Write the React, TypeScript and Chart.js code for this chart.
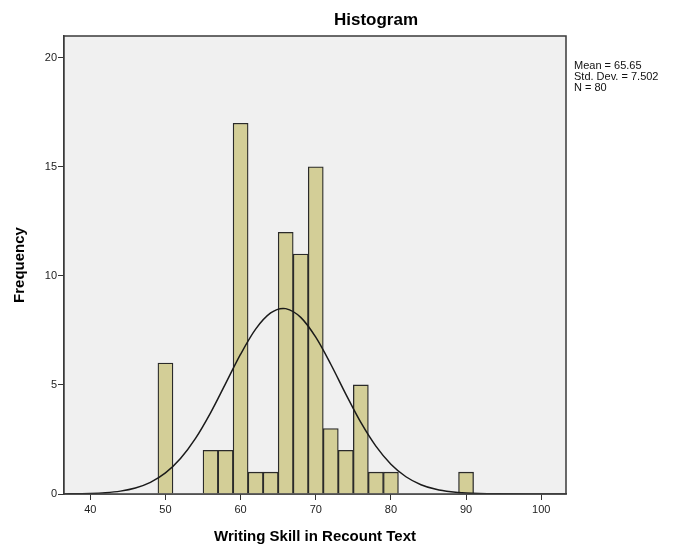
import React, { useEffect, useRef } from "react";
import { Chart, registerables } from "chart.js";

Chart.register(...registerables);

const binCenters = [50, 56, 58, 60, 62, 64, 66, 68, 70, 72, 74, 76, 78, 80, 90];
const frequencies = [6, 2, 2, 17, 1, 1, 12, 11, 15, 3, 2, 5, 1, 1, 1];
const curveX = [36, 40, 42, 44, 46, 48, 50, 52, 54, 56, 58, 60, 62, 64, 65.65, 66, 68, 70, 72, 74, 76, 78, 80, 82, 84, 86, 88, 90, 94, 100, 104];
const curveY = [0.003, 0.025, 0.059, 0.132, 0.276, 0.535, 0.966, 1.625, 2.548, 3.72, 5.06, 6.41, 7.56, 8.3, 8.51, 8.5, 8.1, 7.19, 5.95, 4.58, 3.28, 2.195, 1.366, 0.791, 0.427, 0.215, 0.101, 0.044, 0.007, 0.0, 0.0];
const xTickValues = [40, 50, 60, 70, 80, 90, 100];
const yTickValues = [0, 5, 10, 15, 20];
const statsLines = ["Mean = 65.65", "Std. Dev. = 7.502", "N = 80"];
const chartTitle = "Histogram";
const xTitle = "Writing Skill in Recount Text";
const yTitle = "Frequency";

const FONT = "'Liberation Sans', Arial, sans-serif";

export default function App() {
  const ref = useRef<HTMLCanvasElement | null>(null);
  useEffect(() => {
    if (!ref.current) return;
    const framePlugin = {
      id: "frame",
      beforeDatasetsDraw(chart: any) {
        const { ctx, chartArea: a } = chart;
        ctx.save();
        ctx.fillStyle = "#F0F0F0";
        ctx.fillRect(a.left, a.top, a.right - a.left, a.bottom - a.top);
        ctx.restore();
      },
      afterDraw(chart: any) {
        const { ctx, chartArea: a } = chart;
        ctx.save();
        ctx.strokeStyle = "#3a3a3a";
        ctx.lineWidth = 1.5;
        ctx.strokeRect(a.left, a.top, a.right - a.left, a.bottom - a.top);
        ctx.fillStyle = "#000";
        ctx.textAlign = "center";
        ctx.textBaseline = "middle";
        ctx.font = `bold 17px ${FONT}`;
        ctx.fillText(chartTitle, 376, 20);
        ctx.font = `bold 15px ${FONT}`;
        ctx.fillText(xTitle, (a.left + a.right) / 2, 537);
        ctx.save();
        ctx.translate(20, (a.top + a.bottom) / 2);
        ctx.rotate(-Math.PI / 2);
        ctx.fillText(yTitle, 0, 0);
        ctx.restore();
        ctx.font = `11px ${FONT}`;
        ctx.textAlign = "left";
        ctx.fillStyle = "#111";
        statsLines.forEach((s, i) => ctx.fillText(s, 574, 66 + i * 11));
        ctx.restore();
      },
    };
    const chart = new Chart(ref.current, {
      type: "bar",
      data: {
        datasets: [
          {
            type: "line",
            data: curveX.map((x, i) => ({ x, y: curveY[i] })),
            borderColor: "#1a1a1a",
            borderWidth: 1.5,
            pointRadius: 0,
            cubicInterpolationMode: "monotone",
            fill: false,
            order: 0,
          } as any,
          {
            type: "bar",
            data: binCenters.map((x, i) => ({ x, y: frequencies[i] })),
            backgroundColor: "#D3CE97",
            borderColor: "#2a2a2a",
            borderWidth: 1.3,
            barPercentage: 1,
            categoryPercentage: 1,
            order: 1,
          } as any,
        ],
      },
      options: {
        animation: false,
        responsive: false,
        maintainAspectRatio: false,
        layout: { padding: { top: 36, right: 110, left: 0, bottom: 0 } },
        plugins: { legend: { display: false }, tooltip: { enabled: false } },
        scales: {
          x: {
            type: "linear",
            offset: false,
            min: 36.5,
            max: 103.3,
            afterBuildTicks: (axis: any) => {
              axis.ticks = xTickValues.map((v) => ({ value: v }));
            },
            afterFit: (axis: any) => {
              axis.height = 52;
            },
            grid: { offset: false, drawOnChartArea: false, drawTicks: true, tickLength: 6, color: "#333", lineWidth: 1 },
            border: { display: true, color: "#3a3a3a", width: 1.5 },
            ticks: { color: "#222", font: { family: FONT, size: 11 }, padding: 3, maxRotation: 0, autoSkip: false },
          },
          y: {
            type: "linear",
            min: 0,
            max: 21,
            afterBuildTicks: (axis: any) => {
              axis.ticks = yTickValues.map((v) => ({ value: v }));
            },
            afterFit: (axis: any) => {
              axis.width = 64;
            },
            grid: { drawOnChartArea: false, drawTicks: true, tickLength: 6, color: "#333", lineWidth: 1 },
            border: { display: true, color: "#3a3a3a", width: 1.5 },
            ticks: { color: "#222", font: { family: FONT, size: 11 }, padding: 1 },
          },
        },
      } as any,
      plugins: [framePlugin],
    });
    return () => chart.destroy();
  }, []);
  return (
    <div style={{ position: "absolute", left: 0, top: 0, width: 676, height: 546, background: "#fff" }}>
      <canvas ref={ref} width={676} height={546} style={{ width: 676, height: 546 }} />
    </div>
  );
}
